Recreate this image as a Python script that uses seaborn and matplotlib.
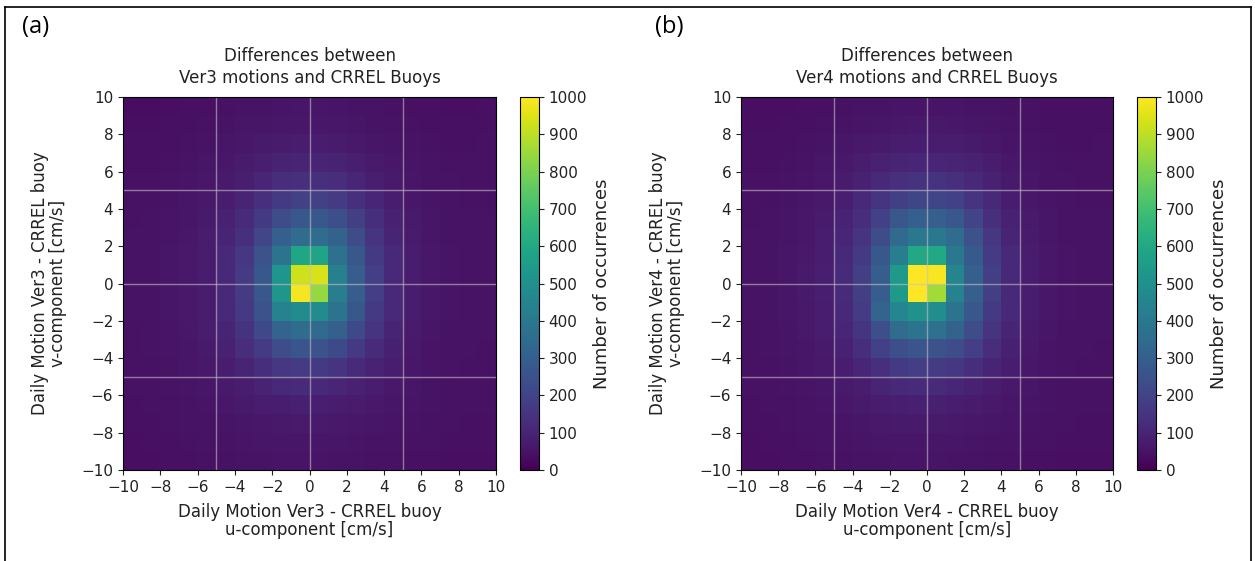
import numpy as np
import pandas as pd
import seaborn as sns
import matplotlib.pyplot as plt
from matplotlib.lines import Line2D

# bin centres (cm/s), 1 cm/s bins from -10 to 10
u_centers = [-9.5, -8.5, -7.5, -6.5, -5.5, -4.5, -3.5, -2.5, -1.5, -0.5,
             0.5, 1.5, 2.5, 3.5, 4.5, 5.5, 6.5, 7.5, 8.5, 9.5]
# rows listed from top (v = 9.5) to bottom (v = -9.5)
v_centers = [9.5, 8.5, 7.5, 6.5, 5.5, 4.5, 3.5, 2.5, 1.5, 0.5,
             -0.5, -1.5, -2.5, -3.5, -4.5, -5.5, -6.5, -7.5, -8.5, -9.5]
bin_edges = [-10, -9, -8, -7, -6, -5, -4, -3, -2, -1, 0, 1, 2, 3, 4, 5, 6, 7, 8, 9, 10]

# Ver3 - CRREL buoy counts
counts_ver3 = [
    [35, 35, 38, 40, 42, 45, 48, 50, 52, 55, 55, 52, 50, 48, 45, 42, 40, 38, 38, 40],
    [38, 38, 40, 42, 45, 50, 55, 58, 60, 62, 62, 60, 55, 50, 48, 45, 42, 40, 40, 42],
    [40, 40, 42, 45, 50, 55, 62, 68, 72, 75, 75, 72, 66, 58, 52, 48, 45, 42, 42, 44],
    [42, 42, 45, 48, 55, 62, 72, 85, 95, 100, 100, 95, 85, 70, 60, 52, 48, 45, 44, 45],
    [44, 45, 48, 52, 60, 70, 85, 105, 125, 135, 135, 125, 105, 85, 68, 58, 50, 47, 45, 46],
    [45, 46, 50, 55, 65, 80, 100, 135, 170, 195, 195, 175, 140, 105, 80, 62, 52, 48, 46, 46],
    [46, 48, 52, 58, 70, 90, 120, 170, 230, 270, 270, 240, 185, 130, 90, 68, 55, 50, 47, 47],
    [47, 48, 54, 62, 75, 100, 140, 210, 300, 350, 350, 310, 230, 150, 100, 72, 58, 50, 48, 47],
    [48, 50, 55, 65, 80, 110, 160, 250, 380, 590, 580, 370, 270, 170, 110, 78, 60, 52, 48, 47],
    [48, 50, 56, 66, 82, 115, 175, 270, 520, 925, 940, 430, 290, 180, 115, 80, 62, 52, 48, 47],
    [48, 50, 56, 66, 82, 115, 175, 270, 520, 985, 840, 420, 290, 180, 115, 80, 62, 52, 48, 47],
    [47, 50, 55, 64, 80, 110, 165, 250, 440, 480, 480, 380, 270, 170, 110, 78, 60, 52, 48, 47],
    [46, 48, 53, 62, 75, 100, 145, 215, 320, 350, 340, 300, 220, 150, 100, 72, 58, 50, 48, 47],
    [45, 47, 52, 58, 70, 90, 125, 175, 230, 260, 250, 220, 170, 120, 88, 66, 54, 49, 47, 46],
    [44, 46, 50, 55, 64, 80, 100, 130, 160, 175, 170, 150, 120, 95, 75, 60, 52, 48, 46, 45],
    [43, 45, 48, 52, 58, 68, 80, 95, 110, 118, 115, 105, 90, 75, 64, 55, 50, 46, 45, 44],
    [42, 44, 46, 50, 54, 60, 68, 75, 82, 86, 85, 80, 72, 64, 57, 52, 48, 45, 44, 43],
    [40, 42, 44, 47, 50, 54, 58, 62, 66, 68, 68, 65, 60, 56, 52, 48, 46, 44, 42, 42],
    [38, 40, 42, 44, 47, 50, 52, 55, 57, 58, 58, 56, 53, 50, 48, 46, 44, 42, 40, 40],
    [36, 38, 40, 42, 44, 46, 48, 50, 52, 52, 52, 50, 48, 46, 44, 42, 40, 38, 38, 38],
]

# Ver4 - CRREL buoy counts
counts_ver4 = [
    [36, 36, 38, 40, 42, 45, 48, 50, 52, 54, 54, 52, 50, 48, 46, 44, 42, 40, 40, 40],
    [38, 38, 40, 42, 45, 50, 54, 58, 62, 64, 64, 62, 58, 52, 48, 45, 42, 40, 40, 42],
    [40, 40, 42, 45, 50, 56, 64, 70, 76, 80, 80, 76, 68, 60, 52, 48, 45, 42, 42, 44],
    [42, 42, 45, 48, 55, 64, 75, 90, 100, 105, 105, 100, 90, 75, 62, 52, 48, 45, 44, 45],
    [44, 45, 48, 52, 60, 72, 90, 115, 135, 145, 145, 135, 115, 90, 70, 58, 50, 47, 45, 46],
    [45, 46, 50, 56, 66, 85, 110, 150, 185, 205, 205, 190, 150, 110, 82, 62, 52, 48, 46, 46],
    [46, 48, 52, 60, 72, 95, 130, 190, 270, 300, 300, 270, 200, 135, 92, 68, 55, 50, 47, 47],
    [47, 48, 54, 62, 76, 105, 150, 230, 340, 400, 400, 350, 250, 160, 100, 72, 58, 50, 48, 47],
    [48, 50, 56, 66, 82, 115, 170, 270, 420, 600, 600, 400, 280, 175, 110, 78, 60, 52, 48, 47],
    [48, 50, 57, 68, 85, 120, 185, 290, 540, 1000, 990, 450, 300, 185, 115, 80, 62, 52, 48, 47],
    [48, 50, 57, 68, 85, 120, 185, 290, 540, 1000, 860, 440, 300, 185, 115, 80, 62, 52, 48, 47],
    [47, 50, 56, 66, 82, 115, 175, 320, 460, 500, 490, 380, 270, 170, 110, 78, 60, 52, 48, 47],
    [46, 48, 54, 63, 77, 105, 155, 240, 350, 380, 370, 310, 230, 150, 100, 72, 58, 50, 48, 47],
    [45, 47, 52, 58, 70, 92, 130, 190, 240, 260, 250, 230, 180, 125, 88, 66, 54, 49, 47, 46],
    [44, 46, 50, 55, 64, 80, 105, 140, 170, 180, 175, 160, 130, 100, 75, 60, 52, 48, 46, 45],
    [43, 45, 48, 52, 58, 68, 82, 98, 112, 120, 118, 108, 92, 76, 64, 55, 50, 46, 45, 44],
    [42, 44, 46, 50, 54, 60, 68, 76, 84, 88, 87, 82, 74, 65, 58, 52, 48, 45, 44, 43],
    [40, 42, 44, 47, 50, 54, 58, 63, 67, 70, 70, 66, 61, 56, 52, 48, 46, 44, 42, 42],
    [38, 40, 42, 44, 47, 50, 52, 55, 57, 58, 58, 56, 53, 50, 48, 46, 44, 42, 40, 40],
    [36, 38, 40, 42, 44, 46, 48, 50, 52, 52, 52, 50, 48, 46, 44, 42, 40, 38, 38, 38],
]

versions = ["Ver3", "Ver4"]
panel_tags = ["(a)", "(b)"]
grid_lines = [-5, 0, 5]
cbar_ticks = [0, 100, 200, 300, 400, 500, 600, 700, 800, 900, 1000]
axis_ticks = [-10, -8, -6, -4, -2, 0, 2, 4, 6, 8, 10]


def to_long(counts):
    uu, vv = np.meshgrid(u_centers, v_centers)
    return pd.DataFrame({"u": uu.ravel(), "v": vv.ravel(),
                         "n": np.asarray(counts, dtype=float).ravel()})


W, H = 1255, 561
fig = plt.figure(figsize=(W / 100, H / 100), dpi=100)
plt.rcParams['font.family'] = ['DejaVu Sans']
txt = "#222222"

ax_boxes = [[123, 97, 373, 373], [741, 97, 372, 373]]
cax_boxes = [[520, 97, 19, 373], [1137, 97, 19, 373]]

for k, counts in enumerate([counts_ver3, counts_ver4]):
    x0, y0, w, h = ax_boxes[k]
    ax = fig.add_axes([x0 / W, 1 - (y0 + h) / H, w / W, h / H])
    cx, cy, cw, ch = cax_boxes[k]
    cax = fig.add_axes([cx / W, 1 - (cy + ch) / H, cw / W, ch / H])

    sns.histplot(data=to_long(counts), x="u", y="v", weights="n",
                 bins=[bin_edges, bin_edges], cmap="viridis",
                 vmin=0, vmax=1000, cbar=True, cbar_ax=cax, ax=ax)

    for g in grid_lines:
        ax.axvline(g, color="#c8c0c8", lw=1, alpha=0.6)
        ax.axhline(g, color="#c8c0c8", lw=1, alpha=0.6)

    ax.set_xlim(-10, 10)
    ax.set_ylim(-10, 10)
    ax.set_xticks(axis_ticks)
    ax.set_yticks(axis_ticks)
    ax.tick_params(labelsize=11, colors=txt)
    ax.set_xlabel(f"Daily Motion {versions[k]} - CRREL buoy\nu-component [cm/s]",
                  fontsize=12, color=txt, linespacing=1.0, labelpad=6)
    ax.set_ylabel(f"Daily Motion {versions[k]} - CRREL buoy\nv-component [cm/s]",
                  fontsize=12, color=txt, linespacing=1.0, labelpad=10)
    ax.set_title(f"Differences between\n{versions[k]} motions and CRREL Buoys",
                 fontsize=12, color=txt, pad=10, linespacing=1.3)

    cax.set_yticks(cbar_ticks)
    cax.tick_params(labelsize=11, colors=txt)
    cax.set_ylabel("Number of occurrences", fontsize=13, color=txt)

    fig.text([22, 655][k] / W, 1 - 27 / H, panel_tags[k], fontsize=17,
             family="Open Sans", va="center", ha="left")

# outer frame
fig.add_artist(Line2D([5 / W, 5 / W], [0, 1 - 7 / H], color="black", lw=1.2))
fig.add_artist(Line2D([5 / W, 1251 / W], [1 - 7 / H, 1 - 7 / H], color="black", lw=1.2))
fig.add_artist(Line2D([1251 / W, 1251 / W], [0, 1 - 7 / H], color="black", lw=1.2))

fig.savefig("out.png", dpi=100)
